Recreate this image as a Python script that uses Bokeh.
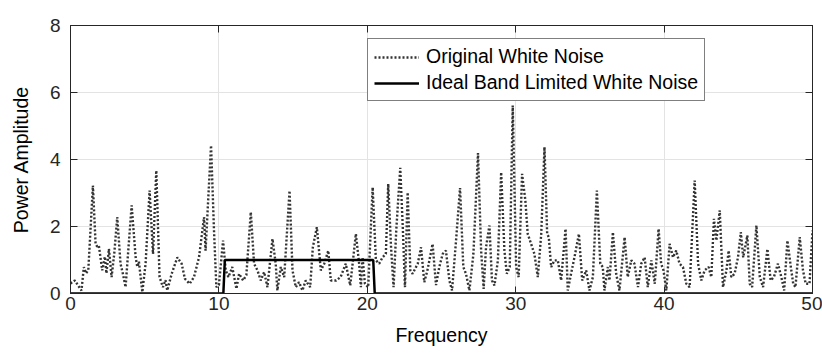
from bokeh.plotting import figure
from bokeh.models import LinearAxis, Range1d, FixedTicker, Legend, LegendItem
from bokeh.embed import file_html
from bokeh.resources import INLINE

# Original white noise spectrum
noise_freq = [0.0, 0.29, 0.56, 0.74, 0.9, 1.05, 1.2, 1.51, 1.69, 1.8, 1.91, 2.14, 2.32, 2.42, 2.59, 2.77,
              2.95, 3.15, 3.37, 3.53, 3.71, 4.12, 4.39, 4.5, 4.61, 4.84, 5.06, 5.33, 5.56, 5.78, 6.0, 6.23,
              6.4, 6.52, 6.82, 7.2, 7.49, 7.71, 8.03, 8.32, 8.66, 9.0, 9.1, 9.47, 9.67, 9.83, 10.0, 10.28,
              10.46, 10.64, 10.9, 11.18, 11.36, 11.63, 11.85, 12.15, 12.37, 12.6, 12.82, 13.05, 13.27, 13.61,
              13.83, 13.94, 14.17, 14.4, 14.76, 14.96, 15.18, 15.4, 15.63, 15.85, 16.15, 16.33, 16.6, 16.87,
              17.1, 17.37, 17.54, 17.9, 18.2, 18.55, 18.85, 19.23, 19.45, 19.57, 19.68, 19.84, 20.06, 20.36,
              20.58, 20.8, 21.03, 21.25, 21.41, 21.6, 21.77, 21.95, 22.22, 22.4, 22.54, 22.72, 22.9, 23.05,
              23.4, 23.62, 23.84, 24.05, 24.4, 24.63, 24.85, 25.08, 25.3, 25.53, 25.71, 25.98, 26.25, 26.47,
              26.65, 26.88, 27.15, 27.46, 27.67, 27.84, 28.0, 28.23, 28.4, 28.57, 28.8, 29.02, 29.24, 29.4,
              29.6, 29.8, 30.03, 30.2, 30.43, 30.65, 30.81, 31.04, 31.26, 31.49, 31.72, 31.94, 32.12, 32.23,
              32.39, 32.61, 32.84, 33.06, 33.36, 33.51, 33.73, 33.96, 34.26, 34.48, 34.75, 34.97, 35.2, 35.47,
              35.7, 35.87, 35.98, 36.21, 36.32, 36.55, 36.77, 36.99, 37.34, 37.55, 37.79, 38.0, 38.24, 38.46,
              38.69, 38.9, 39.14, 39.37, 39.63, 39.8, 39.96, 40.15, 40.37, 40.6, 40.82, 41.04, 41.27, 41.5,
              41.72, 42.06, 42.29, 42.51, 42.73, 43.0, 43.18, 43.36, 43.52, 43.75, 43.97, 44.2, 44.35, 44.53,
              44.75, 44.98, 45.17, 45.33, 45.61, 45.77, 45.93, 46.22, 46.45, 46.67, 46.96, 47.18, 47.4, 47.67,
              47.9, 48.09, 48.31, 48.54, 48.7, 48.85, 49.14, 49.36, 49.54, 49.8, 50.0]
noise_amp = [0.3, 0.39, 0.21, 0.09, 0.79, 0.6, 0.7, 3.22, 1.48, 1.4, 1.43, 0.69, 1.1, 0.6, 1.33, 0.49,
             1.2, 2.28, 0.89, 0.59, 0.19, 2.63, 1.08, 0.8, 0.95, 0.04, 0.89, 3.07, 1.18, 3.67, 0.49, 0.19,
             0.4, 0.09, 0.59, 1.08, 0.89, 0.44, 0.29, 0.49, 1.08, 2.28, 1.28, 4.42, 1.88, 0.19, 0.25, 1.58,
             0.69, 0.49, 0.79, 0.14, 0.59, 0.39, 0.55, 2.43, 0.89, 0.69, 0.39, 0.64, 0.19, 1.63,
             0.89, 0.09, 0.79, 0.49, 3.07, 0.69, 0.19, 0.34, 0.09, 0.39, 0.19, 1.38, 1.98, 0.69,
             0.89, 1.28, 0.39, 0.39, 0.49, 0.89, 0.24, 1.78, 0.89, 0.19, 1.08, 0.29, 0.19, 3.17,
             0.99, 0.89, 1.08, 1.18, 3.27, 1.38, 0.19, 1.88, 3.75, 1.88, 0.19, 3.02, 0.69, 0.59,
             0.89, 1.38, 0.34, 0.69, 1.48, 0.25, 0.79, 1.18, 1.28, 0.39, 0.09, 1.58, 3.15, 0.79,
             0.59, 0.09, 1.18, 4.19, 1.28, 0.14, 1.38, 2.03, 0.39, 0.24, 0.99, 3.62, 1.28, 0.59,
             0.79, 5.61, 0.79, 0.49, 3.57, 2.78, 1.78, 1.48, 1.18, 0.49, 1.78, 4.37, 1.78, 1.68,
             0.79, 0.99, 0.99, 0.39, 1.93, 0.09, 0.59, 1.08, 1.78, 0.39, 0.69, 0.09, 0.49, 3.07,
             0.89, 0.79, 0.09, 0.79, 0.39, 1.83, 0.59, 0.09, 1.68, 0.49, 0.99, 0.89, 0.19, 0.89,
             1.08, 0.19, 0.99, 0.29, 1.93, 0.89, 0.69, 0.09, 1.48, 1.08, 1.28, 0.89, 0.79, 0.29,
             0.19, 3.37, 0.89, 0.39, 0.69, 0.79, 0.49, 2.23, 1.58, 2.48, 0.19, 0.69, 1.28, 0.49,
             0.59, 1.08, 1.83, 1.08, 1.73, 0.29, 0.19, 2.03, 0.49, 0.19, 1.33, 0.39, 0.49, 0.89,
             0.49, 0.09, 1.58, 0.79, 0.29, 0.19, 1.68, 0.69, 0.29, 0.29, 1.88]

# Ideal band limited white noise
band_freq = [0.0, 10.3, 10.4, 20.4, 20.5, 50.0]
band_amp = [0.0, 0.0, 1.0, 1.0, 0.0, 0.0]

x_ticks = [0, 10, 20, 30, 40, 50]
y_ticks = [0, 2, 4, 6, 8]

FONT = "Liberation Sans"
AX = "#262626"

p = figure(width=822, height=355, x_range=Range1d(0, 50), y_range=Range1d(0, 8),
           output_backend="svg", toolbar_location=None,
           min_border_left=70, min_border_right=10, min_border_top=25, min_border_bottom=62)
p.background_fill_color = "white"
p.border_fill_color = "white"
p.outline_line_color = AX
p.outline_line_width = 1

for ax, ticks in ((p.xaxis[0], x_ticks), (p.yaxis[0], y_ticks)):
    ax.ticker = FixedTicker(ticks=ticks)
    ax.major_tick_in = 7
    ax.major_tick_out = 0
    ax.minor_tick_line_color = None
    ax.axis_line_color = AX
    ax.major_tick_line_color = AX
    ax.major_label_text_font = FONT
    ax.major_label_text_font_size = "19px"
    ax.major_label_text_color = AX
    ax.axis_label_text_font = FONT
    ax.axis_label_text_font_size = "19.5px"
    ax.axis_label_text_font_style = "normal"
    ax.axis_label_text_color = "black"

p.xaxis.axis_label = "Frequency"
p.yaxis.axis_label = "Power Amplitude"
p.xaxis.major_label_standoff = 3
p.xaxis.axis_label_standoff = 11
p.yaxis.major_label_standoff = 10
p.yaxis.axis_label_standoff = 15

p.xgrid.ticker = FixedTicker(ticks=x_ticks)
p.ygrid.ticker = FixedTicker(ticks=y_ticks)
p.grid.grid_line_color = "#e3e3e3"
p.grid.grid_line_width = 1

# Mirror axes on top and right: tick marks only
top_ax = LinearAxis(ticker=FixedTicker(ticks=x_ticks),
                    major_label_overrides={t: "" for t in x_ticks},
                    major_label_standoff=0, major_tick_in=7, major_tick_out=0,
                    minor_tick_line_color=None, axis_line_color=AX, major_tick_line_color=AX)
right_ax = LinearAxis(ticker=FixedTicker(ticks=y_ticks),
                      major_label_overrides={t: "" for t in y_ticks},
                      major_label_standoff=0, major_tick_in=7, major_tick_out=0,
                      minor_tick_line_color=None, axis_line_color=AX, major_tick_line_color=AX)
p.add_layout(top_ax, "above")
p.add_layout(right_ax, "right")

r_noise = p.line(noise_freq, noise_amp, line_color="#333333", line_width=2.4, line_dash="2 2")
r_band = p.line(band_freq, band_amp, line_color="black", line_width=2.5)

legend = Legend(items=[LegendItem(label="Original White Noise", renderers=[r_noise]),
                       LegendItem(label="Ideal Band Limited White Noise", renderers=[r_band])],
                location=(297, 192))
legend.label_text_font = FONT
legend.label_text_font_size = "19.5px"
legend.label_text_color = "black"
legend.glyph_width = 45
legend.glyph_height = 20
legend.label_height = 20
legend.label_standoff = 7
legend.spacing = 3
legend.padding = 6
legend.margin = 0
legend.border_line_color = "black"
legend.border_line_width = 1
legend.background_fill_color = "white"
legend.background_fill_alpha = 1
p.add_layout(legend)

open("out.html", "w").write(file_html(p, INLINE))
